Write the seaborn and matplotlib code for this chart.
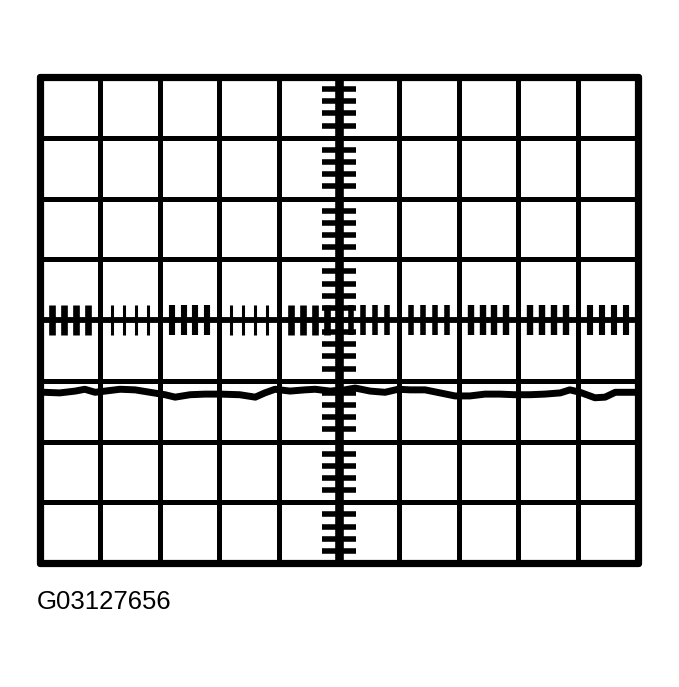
import numpy as np
import pandas as pd
import seaborn as sns
import matplotlib.pyplot as plt

# scope screen: 10 x 8 divisions, trace (divisions)
trace_x = [0.07, 0.33, 0.59, 0.75, 0.92, 1.09, 1.34, 1.59, 1.84, 2.09,
           2.26, 2.51, 2.76, 3.01, 3.34, 3.60, 3.76, 3.93, 4.18, 4.43,
           4.60, 4.85, 5.10, 5.27, 5.52, 5.77, 5.99, 6.19, 6.44, 6.69,
           6.94, 7.19, 7.44, 7.69, 7.94, 8.19, 8.44, 8.70, 8.86, 9.03,
           9.28, 9.45, 9.62, 9.97]
trace_y = [-1.19, -1.20, -1.17, -1.14, -1.19, -1.17, -1.14, -1.15, -1.19, -1.23,
           -1.27, -1.23, -1.22, -1.22, -1.23, -1.27, -1.20, -1.14, -1.17, -1.15,
           -1.14, -1.17, -1.15, -1.12, -1.17, -1.19, -1.14, -1.15, -1.15, -1.20,
           -1.25, -1.25, -1.22, -1.22, -1.23, -1.23, -1.22, -1.20, -1.15, -1.19,
           -1.28, -1.27, -1.19, -1.19]
label = "G03127656"

# tick bar widths on the centre horizontal axis, one per column (pt)
col_tick_lw = [4.8, 2.2, 4.4, 2.2, 4.8, 4.0, 4.0, 4.6, 4.6, 4.4]

sns.set_style("white")
fig = plt.figure(figsize=(6.79, 6.87), dpi=100)
ax = fig.add_axes([40 / 679, 1 - 563 / 687, 598 / 679, 486 / 687])
ax.set_xlim(0, 10)
ax.set_ylim(-4, 4)

# graticule
for x in range(1, 10):
    if x != 5:
        ax.axvline(x, color="black", lw=3.6, zorder=1)
for y in range(-3, 4):
    if y != 0:
        ax.axhline(y, color="black", lw=3.6, zorder=1)
ax.axvline(5, color="black", lw=6.2, zorder=2)
ax.axhline(0, color="black", lw=4.2, zorder=2)
for x in (0, 10):
    ax.axvline(x, color="black", lw=5.2, clip_on=False, zorder=3)
for y in (-4, 4):
    ax.axhline(y, color="black", lw=5.2, clip_on=False, zorder=3)

# minor ticks on the centre axes
for t in np.arange(0.2, 10, 0.2):
    if abs(t - round(t)) < 1e-6:
        continue
    ax.plot([t, t], [-0.24, 0.24], color="black", solid_capstyle="butt",
            lw=col_tick_lw[int(t)], zorder=2)
for t in np.arange(-3.8, 4, 0.2):
    if abs(t - round(t)) < 1e-6:
        continue
    ax.plot([4.72, 5.28], [t, t], color="black", solid_capstyle="butt",
            lw=4.0, zorder=2)

df = pd.DataFrame({"t": trace_x, "v": trace_y})
sns.lineplot(data=df, x="t", y="v", ax=ax, color="black", lw=5.0,
             zorder=4, estimator=None, sort=False)
ax.axis("off")

fig.text(37 / 679, 1 - 609 / 687, label, fontsize=18.5,
         family=["Liberation Sans", "DejaVu Sans"], color="black")

fig.savefig("out.png", dpi=100, facecolor="white")
